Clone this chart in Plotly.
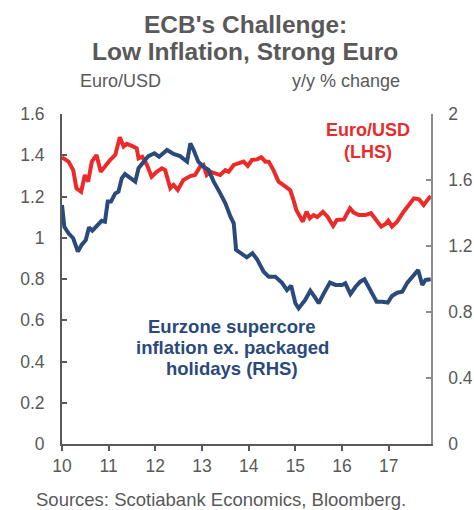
import plotly.graph_objects as go

# Euro/USD (LHS)
red_t = [10.00, 10.14, 10.24, 10.31, 10.41, 10.49, 10.56, 10.64, 10.74, 10.83, 10.92,
         11.03, 11.14, 11.24, 11.32, 11.39, 11.53, 11.60, 11.64, 11.72, 11.82, 11.92,
         12.03, 12.14, 12.21, 12.32, 12.39, 12.48, 12.60, 12.75, 12.85, 12.96,
         13.03, 13.10, 13.18, 13.28, 13.39, 13.50, 13.57, 13.68, 13.78, 13.89, 13.98,
         14.07, 14.18, 14.27, 14.36, 14.43, 14.53, 14.64, 14.79, 14.89, 14.96,
         15.02, 15.16, 15.24, 15.31, 15.39, 15.47, 15.59, 15.69, 15.81, 15.89,
         16.04, 16.17, 16.25, 16.36, 16.50, 16.62, 16.74, 16.84, 16.93, 16.99,
         17.07, 17.18, 17.32, 17.43, 17.54, 17.65, 17.75, 17.84, 17.90]
eur_usd = [1.390, 1.369, 1.328, 1.240, 1.223, 1.304, 1.272, 1.369, 1.401, 1.320, 1.345,
           1.377, 1.401, 1.487, 1.442, 1.455, 1.442, 1.434, 1.385, 1.393, 1.353, 1.296,
           1.320, 1.337, 1.328, 1.240, 1.256, 1.232, 1.280, 1.299, 1.304, 1.345,
           1.353, 1.304, 1.320, 1.312, 1.304, 1.328, 1.320, 1.353, 1.361, 1.369, 1.348,
           1.377, 1.380, 1.390, 1.369, 1.369, 1.328, 1.272, 1.248, 1.230, 1.183,
           1.135, 1.078, 1.126, 1.094, 1.110, 1.100, 1.126, 1.102, 1.057, 1.086,
           1.089, 1.143, 1.122, 1.110, 1.110, 1.119, 1.086, 1.054, 1.067, 1.083,
           1.054, 1.078, 1.126, 1.159, 1.191, 1.186, 1.159, 1.186, 1.202]

# Eurozone supercore inflation ex. packaged holidays (RHS), y/y %
blue_t = [10.00, 10.05, 10.14, 10.24, 10.34, 10.42, 10.51, 10.58, 10.65, 10.74, 10.85, 10.92, 10.98,
          11.05, 11.14, 11.21, 11.28, 11.35, 11.46, 11.57, 11.64, 11.74, 11.85, 11.98,
          12.08, 12.25, 12.39, 12.53, 12.68, 12.75, 12.82, 12.92,
          13.03, 13.14, 13.25, 13.39, 13.50, 13.61, 13.68, 13.73, 13.82, 13.96,
          14.08, 14.18, 14.32, 14.43, 14.57, 14.71, 14.82, 14.91,
          15.00, 15.07, 15.21, 15.32, 15.41, 15.50, 15.61, 15.74, 15.86,
          16.00, 16.07, 16.18, 16.29, 16.39, 16.48, 16.61, 16.74, 16.86, 16.98,
          17.07, 17.18, 17.29, 17.40, 17.54, 17.63, 17.72, 17.79, 17.90]
supercore = [1.448, 1.317, 1.277, 1.247, 1.166, 1.206, 1.236, 1.313, 1.293, 1.321, 1.353, 1.347, 1.469,
             1.469, 1.519, 1.529, 1.610, 1.636, 1.610, 1.590, 1.671, 1.711, 1.745, 1.762,
             1.741, 1.782, 1.758, 1.745, 1.711, 1.822, 1.782, 1.711,
             1.681, 1.661, 1.590, 1.519, 1.459, 1.378, 1.337, 1.176, 1.159, 1.131,
             1.156, 1.119, 1.044, 1.014, 1.014, 0.978, 0.933, 0.960,
             0.853, 0.822, 0.873, 0.929, 0.893, 0.853, 0.913, 0.978, 0.964,
             0.964, 0.974, 0.909, 0.953, 0.984, 0.998, 0.933, 0.862, 0.862, 0.857,
             0.897, 0.917, 0.923, 0.978, 1.024, 1.055, 0.964, 0.994, 0.998]

x_ticks = [10, 11, 12, 13, 14, 15, 16, 17]
x_labels = ["10", "11", "12", "13", "14", "15", "16", "17"]

title_lines = ["ECB's Challenge:", "Low Inflation, Strong Euro"]
red_label_lines = ["Euro/USD", "(LHS)"]
blue_label_lines = ["Eurzone supercore", "inflation ex. packaged", "holidays (RHS)"]
left_title = "Euro/USD"
right_title = "y/y % change"
source_text = "Sources: Scotiabank Economics, Bloomberg."

RED = "#EC2A2A"
BLUE = "#2A4A7C"
GREY = "#595959"
FONT = "Liberation Sans, Arial, sans-serif"

W, H = 474, 510
L, R, T, B = 62, 43, 114, 66
pw, ph = W - L - R, H - T - B


def px(x):
    return (x - L) / pw


def py(y):
    return (H - B - y) / ph


fig = go.Figure()
fig.add_trace(go.Scatter(x=red_t, y=eur_usd, mode="lines", yaxis="y",
                         line=dict(color=RED, width=4), showlegend=False, hoverinfo="skip"))
fig.add_trace(go.Scatter(x=blue_t, y=supercore, mode="lines", yaxis="y2",
                         line=dict(color=BLUE, width=4), showlegend=False, hoverinfo="skip"))

anns = []


def add_text(text, x, y, size, color, bold=False):
    anns.append(dict(text=f"<b>{text}</b>" if bold else text, x=px(x), y=py(y),
                     xref="paper", yref="paper", showarrow=False,
                     xanchor="center", yanchor="middle",
                     font=dict(size=size, color=color, family=FONT)))


for line, y in zip(title_lines, [25, 52]):
    add_text(line, 245, y, 24.5, GREY, bold=True)
add_text(left_title, 120, 81, 18, GREY)
add_text(right_title, 346, 81, 18, GREY)
for line, y in zip(red_label_lines, [130, 152]):
    add_text(line, 368, y, 18, RED, bold=True)
for line, y in zip(blue_label_lines, [326, 347, 368]):
    add_text(line, 232, y, 18.5, BLUE, bold=True)
add_text(source_text, 221, 499, 18.5, GREY)

fig.update_layout(
    width=W, height=H,
    margin=dict(l=L, r=R, t=T, b=B),
    paper_bgcolor="white", plot_bgcolor="white",
    font=dict(family=FONT, color=GREY, size=17),
    xaxis=dict(range=[10, 17.906], tickvals=x_ticks, ticktext=x_labels, automargin=False,
               showgrid=False, zeroline=False, showline=True, linecolor=GREY, linewidth=2,
               ticks="outside", ticklen=5, tickcolor=GREY, tickwidth=1.5,
               tickfont=dict(size=17.5, color=GREY)),
    yaxis=dict(range=[0, 1.6], dtick=0.2, tick0=0, showgrid=False, zeroline=False,
               automargin=False,
               showline=True, linecolor=GREY, linewidth=2,
               ticks="inside", ticklen=5, tickcolor=GREY, tickwidth=1.5,
               ticklabelstandoff=12,
               tickfont=dict(size=17.5, color=GREY)),
    yaxis2=dict(range=[0, 2], dtick=0.4, tick0=0, overlaying="y", side="right",
                automargin=False,
                showgrid=False, zeroline=False, showline=True, linecolor="#8C8C8C", linewidth=1.5,
                ticks="inside", ticklen=5, tickcolor="#8C8C8C", tickwidth=1.5,
                ticklabelstandoff=12,
                tickfont=dict(size=17.5, color=GREY)),
    annotations=anns,
)

fig.write_html("out.html", config={"displayModeBar": False},
               post_script="document.body.style.margin='0';document.body.style.overflow='hidden';")
